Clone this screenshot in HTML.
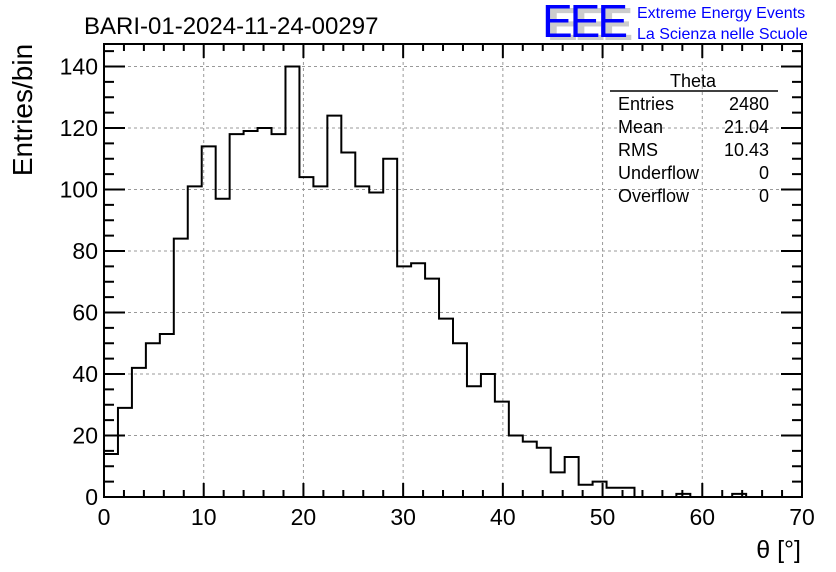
<!DOCTYPE html>
<html><head><meta charset="utf-8"><style>
body{margin:0;background:#fff}
svg{display:block;font-family:"Liberation Sans",sans-serif}
</style></head><body>
<svg id="c" width="836" height="572">
<text x="84" y="34" font-size="24">BARI-01-2024-11-24-00297</text>
<g>
<text x="547" y="40" font-size="46" fill="#ccc" font-weight="bold" letter-spacing="-3">EEE</text>
<text x="542" y="37" font-size="46" fill="#0000ff" letter-spacing="-3">EEE</text>
<text x="637" y="18" font-size="16" fill="#0000ff">Extreme Energy Events</text>
<text x="637" y="39" font-size="16" fill="#0000ff">La Scienza nelle Scuole</text>
</g>
<g id="grid"></g>
<g id="axes"></g>
<path id="hist" fill="none" stroke="#000" stroke-width="2"></path>
<g>
<text x="693" y="87" font-size="18" text-anchor="middle">Theta</text>
<line x1="610" y1="91" x2="778" y2="91" stroke="#000" stroke-width="1.5"/>
<g font-size="18">
<text x="618" y="110">Entries</text><text x="769" y="110" text-anchor="end">2480</text>
<text x="618" y="133">Mean</text><text x="769" y="133" text-anchor="end">21.04</text>
<text x="618" y="156">RMS</text><text x="769" y="156" text-anchor="end">10.43</text>
<text x="618" y="179">Underflow</text><text x="769" y="179" text-anchor="end">0</text>
<text x="618" y="202">Overflow</text><text x="769" y="202" text-anchor="end">0</text>
</g></g>
<text x="32" y="110" font-size="28" transform="rotate(-90 32 110)" text-anchor="middle">Entries/bin</text>
<text x="801" y="558" font-size="25" text-anchor="end">θ [°]</text>
</svg>
<script>
const binWidth = 1.4;
const counts = [14,29,42,50,53,84,101,114,97,118,119,120,118,140,104,101,124,112,101,99,110,75,76,71,58,50,36,40,31,20,18,16,8,13,4,5,3,3,0,0,0,1,0,0,0,1,0,0,0,0];
const xTicks = [0,10,20,30,40,50,60,70];
const yTicks = [0,20,40,60,80,100,120,140];
const X0=104,X1=802,Y0=497,Y1=44,XMAX=70,YMAX=147.3;
const sx=v=>X0+(X1-X0)*v/XMAX, sy=v=>Y0-(Y0-Y1)*v/YMAX;
const NS="http://www.w3.org/2000/svg";
function mk(t,a,p){const e=document.createElementNS(NS,t);for(const k in a)e.setAttribute(k,a[k]);p.appendChild(e);return e;}
const grid=document.getElementById('grid'),axes=document.getElementById('axes');
xTicks.forEach(v=>{if(v>0&&v<XMAX){const l=mk('line',{x1:sx(v),x2:sx(v),y1:Y0,y2:Y1,stroke:'#999','stroke-dasharray':'3,3'},grid);

}
const t=mk('text',{x:sx(v),y:Y0+28,'font-size':23,'text-anchor':'middle'},axes);t.textContent=v;

});
yTicks.forEach(v=>{if(v>0){const l=mk('line',{x1:X0,x2:X1,y1:sy(v),y2:sy(v),stroke:'#999','stroke-dasharray':'3,3'},grid);

}
const t=mk('text',{x:X0-6,y:sy(v)+8,'font-size':23,'text-anchor':'end'},axes);t.textContent=v;

});
let d='';
for(let v=0;v<=XMAX;v+=2){const L=v%10===0?14:7;d+=`M${sx(v)},${Y0}v${-L}M${sx(v)},${Y1}v${L}`;}
for(let v=0;v<=YMAX;v+=5){const L=v%20===0?21:10;d+=`M${X0},${sy(v)}h${L}M${X1},${sy(v)}h${-L}`;}
const tk=mk('path',{d:d,stroke:'#000','stroke-width':2,fill:'none'},axes);


const fr=mk('rect',{x:X0,y:Y1,width:X1-X0,height:Y0-Y1,fill:'none',stroke:'#000','stroke-width':2},axes);


let h=`M${sx(0)},${sy(0)}`;
counts.forEach((c,i)=>{h+=`L${sx(i*binWidth)},${sy(c)}L${sx((i+1)*binWidth)},${sy(c)}`;});
document.getElementById('hist').setAttribute('d',h);
</script>
</body></html>
